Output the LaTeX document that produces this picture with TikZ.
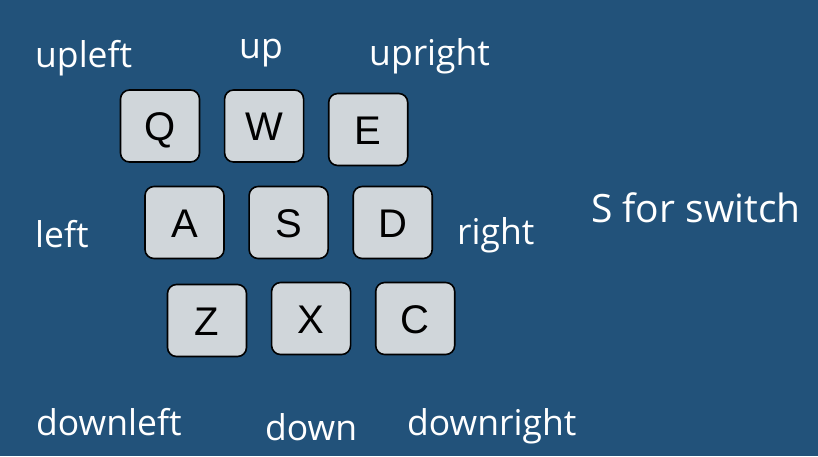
\documentclass[tikz,border=0pt]{standalone}
\usepackage{fontspec}
\setmainfont{Open Sans}
\newfontfamily\keyfont{Liberation Sans}
\usetikzlibrary{positioning}
\definecolor{bgblue}{RGB}{34,82,122}
\definecolor{keygray}{RGB}{208,214,218}

\begin{document}
\begin{tikzpicture}[%
	x=1pt, y=-1pt,              % Work in pixels, top-down like the screen
	node distance=0pt and 23.5pt, % Gap between keys in a row
	]
	% -------------------------------------------------
	% Key and label styles
	\tikzset{
		key/.style={draw=black, fill=keygray, line width=1.6pt, rounded corners=9pt,
			minimum width=79pt, minimum height=72pt, inner sep=0pt,
			text height=29pt, text depth=0pt, font=\keyfont\fontsize{40}{48}\selectfont},
		lbl/.style={text=white, anchor=base west, inner sep=0pt, font=\fontsize{35.5}{42}\selectfont},
		big/.style={lbl, font=\fontsize{39}{46}\selectfont}
	}

	\fill[bgblue] (0,0) rectangle (818,456);

	% top row
	\node[key]						(q)	at (160,126)	{Q};
	\node[key, right=of q]				(w)				{W};
	\node[key, right=of w, yshift=-3.5pt]	(e)				{E};

	% middle row
	\node[key]						(a)	at (184.5,222.5)	{A};
	\node[key, right=of a]				(s)				{S};
	\node[key, right=of s]				(d)				{D};

	% bottom row
	\node[key]						(z)	at (207,320.5)	{Z};
	\node[key, right=of z, yshift=2pt]	(x)				{X};
	\node[key, right=of x]				(c)				{C};

	% direction labels
	\node[lbl]	(t-upleft)		at (35,67)		{upleft};
	\node[lbl]	(t-up)			at (239,58)		{up};
	\node[lbl]	(t-upright)		at (369,65)		{upright};
	\node[lbl]	(t-left)		at (35,247)		{left};
	\node[lbl]	(t-right)		at (457,244)	{right};
	\node[big]	(t-switch)		at (591,222)	{S for switch};
	\node[lbl]	(t-downleft)	at (36,435)		{downleft};
	\node[lbl]	(t-down)		at (265,440)	{down};
	\node[lbl]	(t-downright)	at (407,435)	{downright};

\end{tikzpicture}
\end{document}
